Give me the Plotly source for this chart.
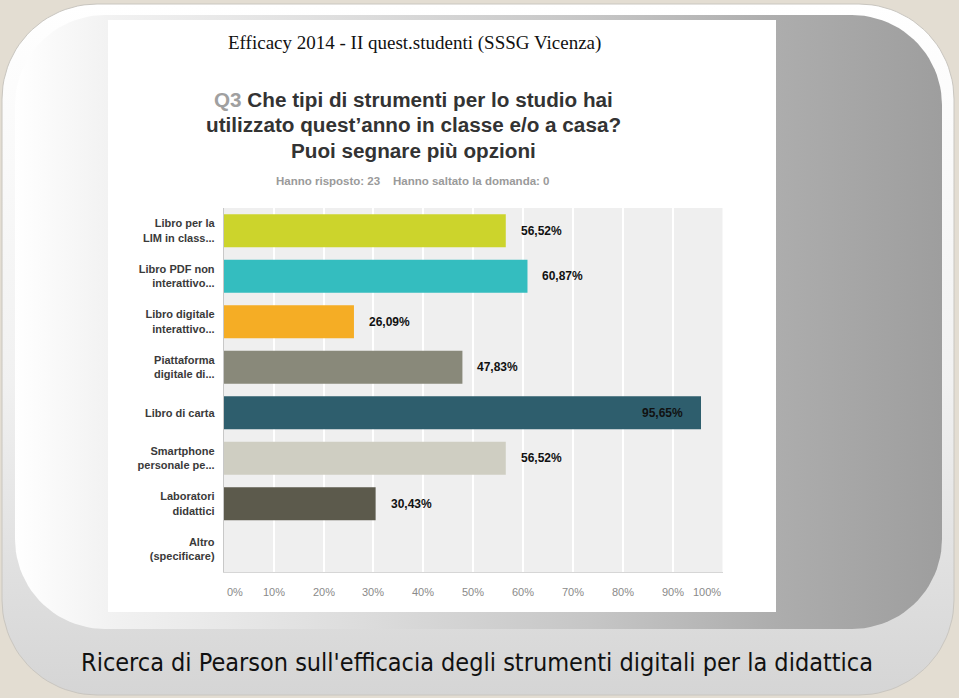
import numpy as np
import plotly.graph_objects as go

# ---------------- data ----------------
categories = [
    "Libro per la<br>LIM in class...",
    "Libro PDF non<br>interattivo...",
    "Libro digitale<br>interattivo...",
    "Piattaforma<br>digitale di...",
    "Libro di carta",
    "Smartphone<br>personale pe...",
    "Laboratori<br>didattici",
    "Altro<br>(specificare)",
]
values = [56.52, 60.87, 26.09, 47.83, 95.65, 56.52, 30.43, 0.0]
bar_colors = ["#ccd42c", "#34bdbf", "#f5ad25", "#89897a", "#2e5e6d", "#cfcec2", "#5c5a4c", "#cccccc"]
tick_vals = [0, 10, 20, 30, 40, 50, 60, 70, 80, 90, 100]
tick_text = [f"{v}%" for v in tick_vals]

title_top = "Efficacy 2014 - II quest.studenti (SSSG Vicenza)"
question_lines = [
    "<span style='color:#a0a0a0'>Q3</span> Che tipi di strumenti per lo studio hai",
    "utilizzato quest\u2019anno in classe e/o a casa?",
    "Puoi segnare più opzioni",
]
subtitle = "Hanno risposto: 23\u00a0\u00a0\u00a0\u00a0Hanno saltato la domanda: 0"
caption = "Ricerca di Pearson sull'efficacia degli strumenti digitali per la didattica"

W, H = 959, 698


def rounded_rect(x0, y0, x1, y1, r, n=24):
    xs, ys = [], []
    corners = [
        (x1 - r, y0 + r, -np.pi / 2, 0),        # top-right
        (x1 - r, y1 - r, 0, np.pi / 2),         # bottom-right
        (x0 + r, y1 - r, np.pi / 2, np.pi),     # bottom-left
        (x0 + r, y0 + r, np.pi, 1.5 * np.pi),   # top-left
    ]
    for cx, cy, a0, a1 in corners:
        t = np.linspace(a0, a1, n)
        xs.extend(cx + r * np.cos(t))
        ys.extend(cy + r * np.sin(t))
    xs.append(xs[0])
    ys.append(ys[0])
    return xs, ys


fig = go.Figure()

# ---------- slide background (paper-pixel axes x/y) ----------
ox, oy = rounded_rect(2, 4, 954, 695, 95)
fig.add_trace(go.Scatter(
    x=ox, y=oy, mode="lines", fill="toself", line=dict(color="#c9c6c0", width=1),
    fillgradient=dict(type="vertical", start=4, stop=695,
                      colorscale=[[0, "#ffffff"], [0.55, "#f1f1f1"], [0.85, "#dedede"], [1, "#d5d5d5"]]),
    hoverinfo="skip", showlegend=False, xaxis="x", yaxis="y"))

ix, iy = rounded_rect(15, 15, 942, 629, 90)
fig.add_trace(go.Scatter(
    x=ix, y=iy, mode="lines", fill="toself", line=dict(color="rgba(0,0,0,0)", width=0),
    fillgradient=dict(type="horizontal", start=15, stop=942,
                      colorscale=[[0, "#ffffff"], [0.1, "#f2f2f2"], [0.4, "#dadada"],
                                  [0.62, "#c6c6c6"], [0.82, "#adadad"], [1, "#9e9e9e"]]),
    hoverinfo="skip", showlegend=False, xaxis="x", yaxis="y"))

# white chart panel
fig.add_trace(go.Scatter(
    x=[108, 776, 776, 108, 108], y=[20, 20, 612, 612, 20], mode="lines", fill="toself",
    fillcolor="#ffffff", line=dict(color="rgba(0,0,0,0)", width=0),
    hoverinfo="skip", showlegend=False, xaxis="x", yaxis="y"))

# ---------- bar chart (x2/y2) ----------
fig.add_trace(go.Bar(
    x=values, y=categories, orientation="h", width=0.72,
    marker=dict(color=bar_colors, line=dict(width=0)),
    hoverinfo="skip", showlegend=False, xaxis="x2", yaxis="y2"))

# plot area grey background
fig.add_shape(type="rect", xref="x2", yref="y2", x0=0, x1=100, y0=-0.5, y1=len(categories) - 0.5,
              fillcolor="#efefef", line=dict(width=0), layer="below")

annotations = []
# value labels
for cat, v in zip(categories, values):
    if v <= 0:
        continue
    label = f"{v:.2f}%".replace(".", ",")
    inside = v > 90
    annotations.append(dict(
        x=v, y=cat, xref="x2", yref="y2", text=label, showarrow=False,
        xanchor="right" if inside else "left", xshift=-16 if inside else 13,
        font=dict(family="Liberation Sans, Arial", size=12, color="#111111", weight="bold")))

# x tick labels
for tv, tt in zip(tick_vals, tick_text):
    if tv == tick_vals[0]:
        anchor, shift = "left", 1
    elif tv == tick_vals[-1]:
        anchor, shift = "right", 0
    else:
        anchor, shift = "center", 0
    annotations.append(dict(
        x=tv, y=1 - 592 / H, xref="x2", yref="paper", text=tt, showarrow=False,
        xanchor=anchor, yanchor="middle", xshift=shift,
        font=dict(family="Liberation Sans, Arial", size=11, color="#8a8a8a")))

# titles
annotations.append(dict(x=414 / W, y=1 - 43 / H, xref="paper", yref="paper", text=title_top,
                        showarrow=False, xanchor="center", yanchor="middle",
                        font=dict(family="Liberation Serif, Times New Roman", size=19, color="#111111")))
for line, yc in zip(question_lines, [99, 125, 150]):
    annotations.append(dict(x=413.5 / W, y=1 - yc / H, xref="paper", yref="paper", text=line,
                            showarrow=False, xanchor="center", yanchor="middle", align="center",
                            font=dict(family="Liberation Sans, Arial", size=20.7, color="#333333",
                                      weight="bold")))
annotations.append(dict(x=412.5 / W, y=1 - 181 / H, xref="paper", yref="paper", text=subtitle,
                        showarrow=False, xanchor="center", yanchor="middle",
                        font=dict(family="Liberation Sans, Arial", size=11.5, color="#9a9a9a", weight="bold")))
annotations.append(dict(x=477 / W, y=1 - 662 / H, xref="paper", yref="paper", text=caption,
                        showarrow=False, xanchor="center", yanchor="middle",
                        font=dict(family="DejaVu Sans Condensed, Liberation Sans, Arial", size=25,
                                  color="#111111")))

fig.update_layout(
    width=W, height=H,
    margin=dict(l=0, r=0, t=0, b=0),
    paper_bgcolor="#e3ddd2",
    plot_bgcolor="rgba(0,0,0,0)",
    xaxis=dict(domain=[0, 1], range=[0, W], visible=False, fixedrange=True),
    yaxis=dict(domain=[0, 1], range=[H, 0], visible=False, fixedrange=True),
    xaxis2=dict(domain=[223.8 / W, 722.7 / W], range=[0, 100], anchor="y2",
                showgrid=True, gridcolor="#ffffff", gridwidth=2, dtick=10, tick0=0,
                showticklabels=False, zeroline=False, showline=True, linecolor="#d6d6d6",
                linewidth=1, fixedrange=True),
    yaxis2=dict(domain=[1 - 572 / H, 1 - 208 / H], anchor="x2", type="category",
                autorange="reversed", showgrid=False, zeroline=False,
                showline=True, linecolor="#c8c8c8", linewidth=1,
                ticks="", ticklabelstandoff=6,
                tickfont=dict(family="Liberation Sans, Arial", size=11, color="#3a3a3a", weight="bold"),
                fixedrange=True),
    annotations=annotations,
    bargap=0.28,
)

fig.write_html("out.html")
